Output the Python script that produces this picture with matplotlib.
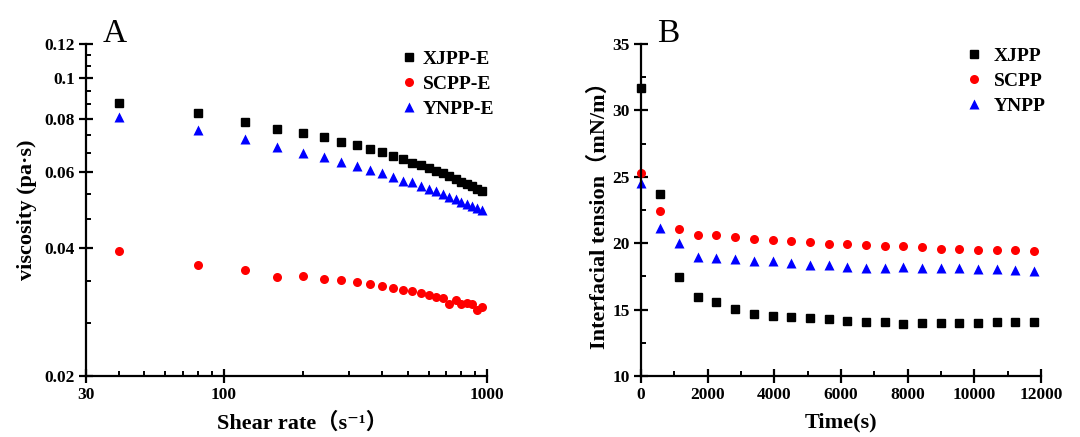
import numpy as np
import matplotlib
matplotlib.use('Agg')
import matplotlib.pyplot as plt
from matplotlib.ticker import FixedLocator, NullFormatter, MultipleLocator

plt.rcParams['font.family'] = ['Liberation Serif', 'DejaVu Serif', 'Noto Sans CJK SC']
plt.rcParams['font.weight'] = 'bold'

# ---- panel A: viscosity vs shear rate ----
shear_rate = [40, 80, 120, 160, 200, 240, 280, 320, 360, 400, 440, 480,
              520, 560, 600, 640, 680, 720, 760, 800, 840, 880, 920, 960]
visc_xjpp = [0.0874, 0.0826, 0.0789, 0.0760, 0.0742, 0.0725, 0.0708, 0.0695,
             0.0681, 0.0669, 0.0657, 0.0645, 0.0630, 0.0624, 0.0615, 0.0605,
             0.0597, 0.0588, 0.0579, 0.0571, 0.0564, 0.0557, 0.0550, 0.0542]
visc_scpp = [0.0393, 0.0365, 0.0354, 0.0341, 0.0344, 0.0338, 0.0336, 0.0333,
             0.0329, 0.0325, 0.0321, 0.0318, 0.0316, 0.0313, 0.0309, 0.0306,
             0.0304, 0.0295, 0.0302, 0.0295, 0.0297, 0.0295, 0.0286, 0.0291]
visc_ynpp = [0.0811, 0.0755, 0.0718, 0.0689, 0.0665, 0.0651, 0.0635, 0.0622,
             0.0608, 0.0597, 0.0585, 0.0573, 0.0571, 0.0558, 0.0548, 0.0543,
             0.0534, 0.0525, 0.0519, 0.0512, 0.0506, 0.0501, 0.0494, 0.0490]

# ---- panel B: interfacial tension vs time ----
time_s = [0, 580, 1150, 1710, 2260, 2830, 3390, 3950, 4510, 5070, 5630,
          6180, 6740, 7310, 7870, 8430, 8990, 9550, 10110, 10680, 11230, 11800]
ift_xjpp = [31.7, 23.7, 17.43, 15.97, 15.57, 15.01, 14.66, 14.51, 14.46, 14.33,
            14.26, 14.13, 14.03, 14.03, 13.93, 14.01, 14.01, 13.98, 13.98,
            14.03, 14.03, 14.03]
ift_scpp = [25.3, 22.45, 21.06, 20.63, 20.63, 20.45, 20.35, 20.25, 20.13, 20.08,
            19.97, 19.92, 19.90, 19.80, 19.80, 19.70, 19.60, 19.60, 19.47,
            19.47, 19.47, 19.40]
ift_ynpp = [24.5, 21.13, 20.0, 18.94, 18.87, 18.79, 18.69, 18.66, 18.49, 18.36,
            18.36, 18.24, 18.16, 18.16, 18.19, 18.16, 18.14, 18.11, 18.06,
            18.06, 17.98, 17.93]

visc_yticks = [0.02, 0.04, 0.06, 0.08, 0.1, 0.12]
visc_ylabels = ['0.02', '0.04', '0.06', '0.08', '0.1', '0.12']


def style_axes(ax):
    for s in ['top', 'right']:
        ax.spines[s].set_visible(False)
    for s in ['left', 'bottom']:
        ax.spines[s].set_linewidth(1.6)
    ax.tick_params(which='major', direction='inout', length=10, width=1.6,
                   labelsize=12.5, pad=3)
    ax.tick_params(which='minor', direction='in', length=3.5, width=1.4)
    for lab in ax.get_xticklabels() + ax.get_yticklabels():
        lab.set_fontweight('bold')


fig = plt.figure(figsize=(10.8, 4.37), dpi=100)

# panel A
ax1 = fig.add_axes([0.0796, 0.1396, 0.3713, 0.7597])
ax1.plot(shear_rate, visc_xjpp, 's', color='black', ms=5.5, label='XJPP-E')
ax1.plot(shear_rate, visc_scpp, 'o', color='#ff0000', ms=6.5, mec='none', label='SCPP-E')
ax1.plot(shear_rate, visc_ynpp, '^', color='#0000ff', ms=6.5, mec='none', label='YNPP-E')
ax1.set_xscale('log')
ax1.set_yscale('log')
ax1.set_xlim(30, 1000)
ax1.set_ylim(0.02, 0.12)
ax1.xaxis.set_major_locator(FixedLocator([30, 100, 1000]))
ax1.set_xticklabels(['30', '100', '1000'])
ax1.xaxis.set_minor_locator(FixedLocator([40, 50, 60, 70, 80, 90, 200, 300, 400,
                                          500, 600, 700, 800, 900]))
ax1.xaxis.set_minor_formatter(NullFormatter())
ax1.yaxis.set_major_locator(FixedLocator(visc_yticks))
ax1.set_yticklabels(visc_ylabels)
ax1.yaxis.set_minor_locator(FixedLocator(np.arange(0.02, 0.1201, 0.02 / 3)))
ax1.yaxis.set_minor_formatter(NullFormatter())
style_axes(ax1)
ax1.set_xlabel('Shear rate（s⁻¹）', fontsize=16, fontweight='bold', labelpad=7)
ax1.xaxis.label.set_x(0.54)
ax1.set_ylabel('viscosity (pa·s)', fontsize=16, fontweight='bold', labelpad=5)
ax1.text(0.042, 1.006, 'A', transform=ax1.transAxes, fontsize=24,
         fontweight='normal', va='baseline', ha='left')
ax1.legend(loc='upper left', bbox_to_anchor=(0.786, 0.98), frameon=False,
           prop={'weight': 'bold', 'size': 14}, handlelength=0.8,
           handletextpad=0.3, labelspacing=0.38, borderpad=0, borderaxespad=0)

# panel B
ax2 = fig.add_axes([0.5935, 0.1396, 0.3704, 0.7597])
ax2.plot(time_s, ift_xjpp, 's', color='black', ms=5.5, label='XJPP', clip_on=False)
ax2.plot(time_s, ift_scpp, 'o', color='#ff0000', ms=6.5, mec='none', label='SCPP', clip_on=False)
ax2.plot(time_s, ift_ynpp, '^', color='#0000ff', ms=6.5, mec='none', label='YNPP', clip_on=False)
ax2.set_xlim(0, 12000)
ax2.set_ylim(10, 35)
ax2.xaxis.set_major_locator(MultipleLocator(2000))
ax2.xaxis.set_minor_locator(MultipleLocator(1000))
ax2.yaxis.set_major_locator(MultipleLocator(5))
ax2.yaxis.set_minor_locator(MultipleLocator(2.5))
style_axes(ax2)
ax2.set_xlabel('Time(s)', fontsize=16, fontweight='bold', labelpad=7)
ax2.set_ylabel('Interfacial tension（mN/m）', fontsize=16, fontweight='bold', labelpad=2)
ax2.text(0.04, 1.006, 'B', transform=ax2.transAxes, fontsize=24,
         fontweight='normal', va='baseline', ha='left')
ax2.legend(loc='upper left', bbox_to_anchor=(0.8125, 0.99), frameon=False,
           prop={'weight': 'bold', 'size': 14}, handlelength=0.8,
           handletextpad=0.62, labelspacing=0.38, borderpad=0, borderaxespad=0)

fig.savefig('out.png', dpi=100)
